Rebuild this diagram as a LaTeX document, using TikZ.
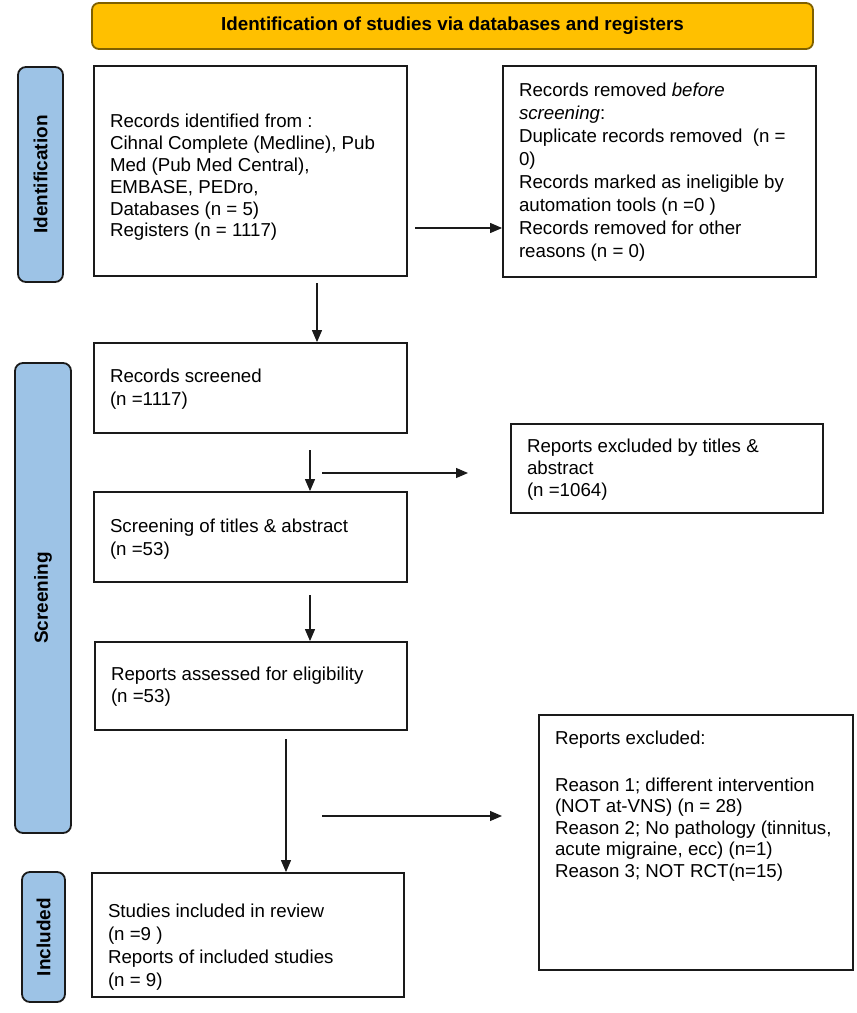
\documentclass[tikz,border=0pt]{standalone}
\usepackage{fontspec}
\setmainfont{Liberation Sans}
\usetikzlibrary{arrows.meta}
\definecolor{gold}{HTML}{FFC000}
\definecolor{goldedge}{HTML}{7F6000}
\definecolor{sideblue}{HTML}{9DC3E6}
\definecolor{edge}{HTML}{1A1A1A}
% width, height, top shift, baselineskip, content
\newcommand{\bxt}[5]{\parbox[c][#2][c]{#1}{\fontsize{18.7}{#4}\selectfont\raggedright\vspace*{#3}#5}}
\newcommand{\bxtop}[5]{\parbox[c][#2][t]{#1}{\fontsize{18.7}{#4}\selectfont\raggedright\vspace*{#3}#5}}
\tikzset{
  box/.style={draw=edge, line width=1.8pt, fill=white, inner xsep=16pt, inner ysep=0pt},
  side/.style={draw=edge, line width=1.8pt, fill=sideblue, rounded corners=8pt, rotate=90,
    inner sep=0pt, font=\bfseries\fontsize{19}{22}\selectfont},
  banner/.style={draw=goldedge, line width=1.8pt, fill=gold, rounded corners=7pt,
    minimum width=721pt, minimum height=46pt, inner sep=0pt,
    font=\bfseries\fontsize{18.8}{22}\selectfont},
  arr/.style={line width=1.2pt, draw=edge, -{Triangle[length=12pt,width=10pt]}}
}
\begin{document}
\begin{tikzpicture}[x=1pt,y=-1pt]
\useasboundingbox (0,0) rectangle (857,1013);

\node[banner] (ban) at (452.5,26) {Identification of studies via databases and registers};

\node[side, minimum width=215pt, minimum height=45pt] (L1) at (40.5,174.5) {Identification};
\node[side, minimum width=470pt, minimum height=56pt] (L2) at (43,598) {Screening};
\node[side, minimum width=130pt, minimum height=43pt] (L3) at (43.5,937) {Included};

\node[box] (b1) at (250.5,171) {\bxt{281pt}{210pt}{13pt}{21.8pt}{Records identified from :\\
Cihnal Complete (Medline), Pub\\
Med (Pub Med Central),\\
EMBASE, PEDro,\\
Databases (n = 5)\\
Registers (n = 1117)}};

\node[box] (b2) at (659.5,171.5) {\bxt{281pt}{211pt}{2pt}{23pt}{Records removed \textit{before}\\
\textit{screening}:\\
Duplicate records removed\ \ (n =\\
0)\\
Records marked as ineligible by\\
automation tools (n =0 )\\
Records removed for other\\
reasons (n = 0)}};

\node[box] (b3) at (250.5,388) {\bxt{281pt}{90pt}{3pt}{23pt}{Records screened\\
(n =1117)}};

\node[box] (b4) at (667,468.5) {\bxt{280pt}{89pt}{3pt}{22pt}{Reports excluded by titles \&\\
abstract\\
(n =1064)}};

\node[box] (b5) at (250.5,537) {\bxt{281pt}{90pt}{4pt}{22.5pt}{Screening of titles \& abstract\\
(n =53)}};

\node[box] (b6) at (251,686) {\bxt{280pt}{88pt}{2pt}{22pt}{Reports assessed for eligibility\\
(n =53)}};

\node[box] (b7) at (696,842.5) {\bxtop{282pt}{255pt}{16pt}{21.5pt}{Reports excluded:\\[25pt]
Reason 1; different intervention\\
(NOT at-VNS) (n = 28)\\
Reason 2; No pathology (tinnitus,\\
acute migraine, ecc) (n=1)\\
Reason 3; NOT RCT(n=15)}};

\node[box] (b8) at (248,935) {\bxt{280pt}{124pt}{25pt}{23pt}{Studies included in review\\
(n =9 )\\
Reports of included studies\\
(n = 9)}};

\coordinate (p1) at (415,228);
\draw[arr] (p1) -- (p1 -| b2.west);
\coordinate (p2) at (317,283);
\draw[arr] (p2) -- (p2 |- b3.north);
\coordinate (p3) at (310,450);
\draw[arr] (p3) -- (p3 |- b5.north);
\coordinate (p4) at (322,473);
\coordinate (p4e) at (468,473);
\draw[arr] (p4) -- (p4e);
\coordinate (p5) at (310,595);
\draw[arr] (p5) -- (p5 |- b6.north);
\coordinate (p6) at (286,739);
\draw[arr] (p6) -- (p6 |- b8.north);
\coordinate (p7) at (322,816);
\coordinate (p7e) at (502,816);
\draw[arr] (p7) -- (p7e);
\end{tikzpicture}
\end{document}
